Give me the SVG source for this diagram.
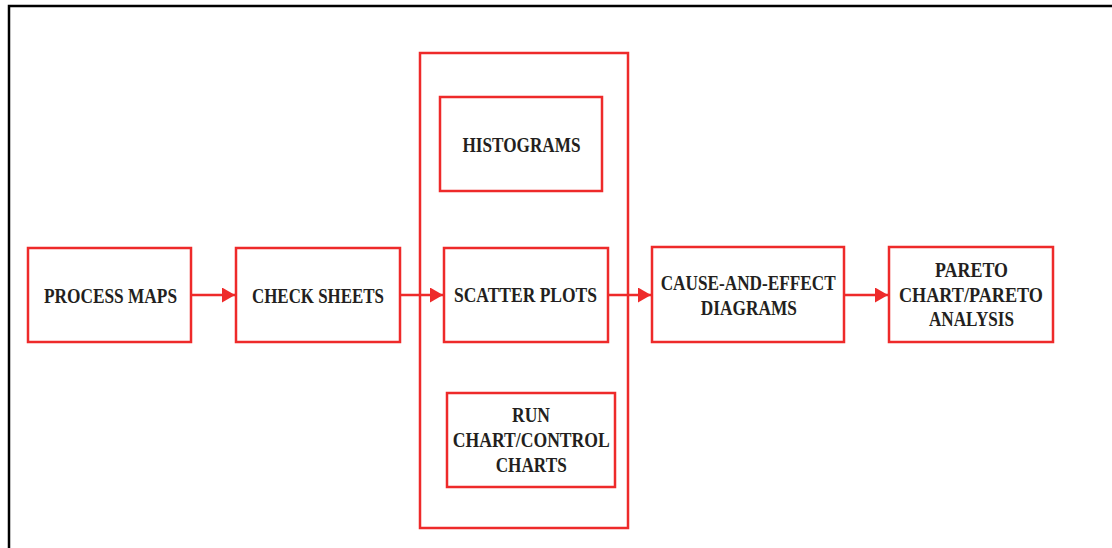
<svg xmlns="http://www.w3.org/2000/svg" width="1112" height="548" viewBox="0 0 1112 548">
<style>
.box{fill:#ffffff;stroke:#ee2a2a;stroke-width:2.5}
.grp{fill:none;stroke:#ee2a2a;stroke-width:2.5}
.lbl{font-family:"Liberation Serif","Times New Roman",serif;font-weight:bold;font-size:21px;fill:#231f20;text-anchor:middle}
.conn{stroke:#ee2a2a;stroke-width:2.5;fill:none}
</style>
<defs>
<marker id="ah" markerUnits="userSpaceOnUse" markerWidth="14" markerHeight="16" refX="13" refY="7.5" orient="auto">
<path d="M0,0 L13,7.5 L0,15 z" fill="#ee2a2a"/>
</marker>
</defs>
<rect width="1112" height="548" fill="#ffffff"/>
<g id="frame">
<path d="M9,548 L9,6 L1112,6" fill="none" stroke="#000000" stroke-width="2.5"/>
</g>
<g id="tools-group">
<rect class="grp" x="420" y="53" width="208" height="475"/>
</g>
<g id="connectors">
<line class="conn" x1="191" y1="295" x2="235" y2="295" marker-end="url(#ah)"/>
<line class="conn" x1="400" y1="295" x2="443" y2="295" marker-end="url(#ah)"/>
<line class="conn" x1="608" y1="295" x2="651" y2="295" marker-end="url(#ah)"/>
<line class="conn" x1="844" y1="295" x2="888" y2="295" marker-end="url(#ah)"/>
</g>
<g id="process-maps">
<rect class="box" x="28" y="248" width="163" height="94"/>
<text class="lbl" x="110.5" y="302.5" textLength="133" lengthAdjust="spacingAndGlyphs">PROCESS MAPS</text>
</g>
<g id="check-sheets">
<rect class="box" x="236" y="248" width="164" height="94"/>
<text class="lbl" x="318" y="302.5" textLength="132" lengthAdjust="spacingAndGlyphs">CHECK SHEETS</text>
</g>
<g id="histograms">
<rect class="box" x="440" y="97" width="162" height="94"/>
<text class="lbl" x="521.5" y="151.7" textLength="118" lengthAdjust="spacingAndGlyphs">HISTOGRAMS</text>
</g>
<g id="scatter-plots">
<rect class="box" x="444" y="248" width="164" height="94"/>
<text class="lbl" x="525.5" y="302.3" textLength="143" lengthAdjust="spacingAndGlyphs">SCATTER PLOTS</text>
</g>
<g id="run-control-charts">
<rect class="box" x="447" y="393" width="168" height="94"/>
<text class="lbl" x="531" y="422.3" textLength="38" lengthAdjust="spacingAndGlyphs">RUN</text>
<text class="lbl" x="531.3" y="447.3" textLength="157" lengthAdjust="spacingAndGlyphs">CHART/CONTROL</text>
<text class="lbl" x="531.2" y="471.7" textLength="71" lengthAdjust="spacingAndGlyphs">CHARTS</text>
</g>
<g id="cause-and-effect">
<rect class="box" x="652" y="247" width="192" height="95"/>
<text class="lbl" x="748.2" y="290" textLength="175" lengthAdjust="spacingAndGlyphs">CAUSE-AND-EFFECT</text>
<text class="lbl" x="748.8" y="315" textLength="96" lengthAdjust="spacingAndGlyphs">DIAGRAMS</text>
</g>
<g id="pareto">
<rect class="box" x="889" y="247" width="164" height="95"/>
<text class="lbl" x="971.5" y="276.7" textLength="73" lengthAdjust="spacingAndGlyphs">PARETO</text>
<text class="lbl" x="971" y="301.7" textLength="144" lengthAdjust="spacingAndGlyphs">CHART/PARETO</text>
<text class="lbl" x="971.5" y="326" textLength="85" lengthAdjust="spacingAndGlyphs">ANALYSIS</text>
</g>
</svg>
